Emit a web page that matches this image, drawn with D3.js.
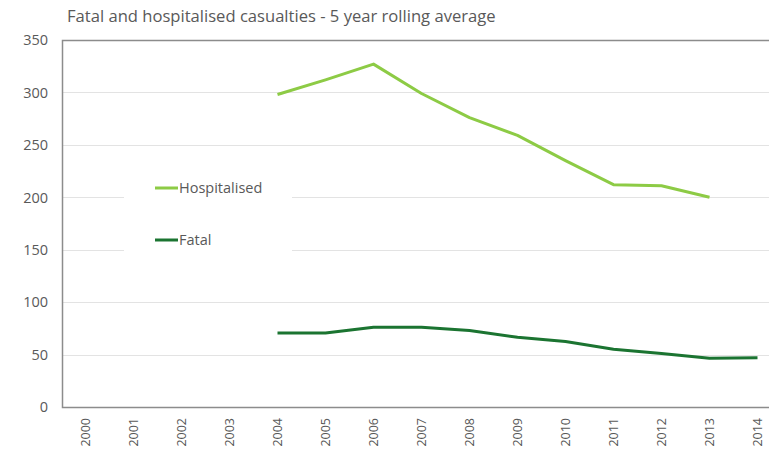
<!DOCTYPE html>
<html>
<head>
<meta charset="utf-8">
<script src="https://cdn.jsdelivr.net/npm/d3@7"></script>
<style>
  body { margin: 0; background: #fff; }
  svg { display: block; }
</style>
</head>
<body>
<div id="chart"></div>
<script>
const width = 769, height = 457;

const years = ['2000','2001','2002','2003','2004','2005','2006','2007','2008','2009','2010','2011','2012','2013','2014'];
const hospYears = ['2004','2005','2006','2007','2008','2009','2010','2011','2012','2013'];
const hospitalised = [298, 312, 327, 299, 276, 259, 235, 212, 211, 200];
const fatalYears = ['2004','2005','2006','2007','2008','2009','2010','2011','2012','2013','2014'];
const fatal = [70.5, 70.5, 76, 76, 73, 66.5, 62.5, 55, 51, 46.5, 47];
const yTicks = [0, 50, 100, 150, 200, 250, 300, 350];

const font = "'Open Sans', sans-serif";
const textColor = '#595959';

const x = d3.scaleBand().domain(years).range([61.5, 781.5]);
const y = d3.scaleLinear().domain([0, 350]).range([407, 40]);

const svg = d3.select('#chart').append('svg')
              .attr('width', width)
              .attr('height', height);

// title
svg.append('text')
   .attr('x', 67)
   .attr('y', 22)
   .attr('font-family', font)
   .attr('font-size', 16.6)
   .attr('fill', textColor)
   .text('Fatal and hospitalised casualties - 5 year rolling average');

// gridlines
svg.append('g')
   .selectAll('line')
   .data(yTicks.slice(1, -1))
   .join('line')
   .attr('x1', 62).attr('x2', width)
   .attr('y1', d => Math.round(y(d)) + 0.5)
   .attr('y2', d => Math.round(y(d)) + 0.5)
   .attr('stroke', '#e3e3e3');

// legend background (covers gridlines)
svg.append('rect')
   .attr('x', 124).attr('y', 165)
   .attr('width', 168).attr('height', 95)
   .attr('fill', '#fff');

// plot border (top, left, bottom)
svg.append('path')
   .attr('d', `M${width},${y(350) + 0.5}H62.5V${y(0) + 0.5}H${width}`)
   .attr('fill', 'none')
   .attr('stroke', '#8c8c8c')
   .attr('stroke-width', 1.5);

// y labels
svg.append('g')
   .attr('font-family', font)
   .attr('font-size', 14.5)
   .attr('fill', textColor)
   .selectAll('text')
   .data(yTicks)
   .join('text')
   .attr('x', 48)
   .attr('y', d => y(d))
   .attr('dy', '0.36em')
   .attr('text-anchor', 'end')
   .text(d => d);

// x labels
svg.append('g')
   .attr('font-family', font)
   .attr('font-size', 12.5)
   .attr('fill', textColor)
   .selectAll('text')
   .data(years)
   .join('text')
   .attr('transform', d => `translate(${x(d) + x.bandwidth() / 2},418) rotate(-90)`)
   .attr('dy', '0.36em')
   .attr('text-anchor', 'end')
   .text(d => d);

const line = d3.line()
               .x(d => x(d[0]) + x.bandwidth() / 2)
               .y(d => y(d[1]));

const series = [
  {name: 'Hospitalised', color: '#8dcb45', data: d3.zip(hospYears, hospitalised), ly: 188},
  {name: 'Fatal', color: '#1b7431', data: d3.zip(fatalYears, fatal), ly: 240}
];

svg.append('g')
   .attr('fill', 'none')
   .attr('stroke-width', 3)
   .attr('stroke-linejoin', 'round')
   .selectAll('path')
   .data(series)
   .join('path')
   .attr('stroke', d => d.color)
   .attr('d', d => line(d.data));

// legend
const leg = svg.append('g');
leg.selectAll('line')
   .data(series)
   .join('line')
   .attr('x1', 155).attr('x2', 178)
   .attr('y1', d => d.ly).attr('y2', d => d.ly)
   .attr('stroke', d => d.color)
   .attr('stroke-width', 3);
leg.selectAll('text')
   .data(series)
   .join('text')
   .attr('x', 179)
   .attr('y', d => d.ly)
   .attr('dy', '0.36em')
   .attr('font-family', font)
   .attr('font-size', 14.5)
   .attr('fill', textColor)
   .text(d => d.name);
</script>
</body>
</html>
